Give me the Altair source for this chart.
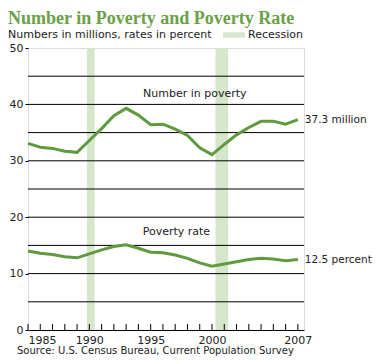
import altair as alt
import pandas as pd

years = list(range(1985, 2008))
number_in_poverty = [33.1, 32.4, 32.2, 31.7, 31.5, 33.6, 35.7, 38.0, 39.3, 38.1, 36.4, 36.5,
                     35.6, 34.5, 32.3, 31.1, 32.9, 34.6, 35.9, 37.0, 37.0, 36.5, 37.3]
poverty_rate = [14.0, 13.6, 13.4, 13.0, 12.8, 13.5, 14.2, 14.8, 15.1, 14.5, 13.8, 13.7,
                13.3, 12.7, 11.9, 11.3, 11.7, 12.1, 12.5, 12.7, 12.6, 12.3, 12.5]

recession_start = [1989.8, 2000.28]
recession_end = [1990.44, 2001.32]

series_labels = ["Number in poverty", "Poverty rate"]
series_label_x = [1998.6, 1997.1]
series_label_y = [41.8, 17.4]

end_labels = ["37.3 million", "12.5 percent"]

title_text = "Number in Poverty and Poverty Rate"
subtitle_text = "Numbers in millions, rates in percent"
source_text = "Source:  U.S. Census Bureau, Current Population Survey"

x_tick_labels = [1985, 1990, 1995, 2000, 2007]
y_ticks = list(range(0, 51, 5))
grid_values = list(range(5, 50, 5))

GREEN = "#5f9b3e"
TITLE_GREEN = "#6aa146"
BAND = "#d6e6cb"
FONT = "DejaVu Sans"
TEXT = "#222222"

W, H = 276, 282

lines_df = pd.DataFrame({
    "year": years * 2,
    "value": number_in_poverty + poverty_rate,
    "series": ["number"] * len(years) + ["rate"] * len(years),
})
band_df = pd.DataFrame({"start": recession_start, "end": recession_end,
                        "label": ["Recession"] * len(recession_start)})
lab_df = pd.DataFrame({"text": series_labels, "x": series_label_x, "y": series_label_y})
end_df = pd.DataFrame({"text": end_labels, "x": [years[-1]] * 2,
                       "y": [number_in_poverty[-1], poverty_rate[-1]]})
grid_df = pd.DataFrame({"y": grid_values})
tick_df = pd.DataFrame({"year": years})

xscale = alt.Scale(domain=[1985, 2007.5], nice=False, zero=False)
yscale = alt.Scale(domain=[0, 50], nice=False)

xaxis = alt.Axis(values=x_tick_labels, format="d", title=None, grid=False, ticks=False,
                 domain=True, domainColor="black", domainWidth=1, labelPadding=4,
                 labelFont=FONT, labelFontSize=11, labelColor=TEXT)
yaxis = alt.Axis(values=y_ticks, title=None, grid=False, ticks=True, tickSize=3,
                 tickColor="black", domain=False, labelPadding=2, labelFont=FONT,
                 labelFontSize=11, labelColor=TEXT)

bands = alt.Chart(band_df).mark_rect(opacity=1).encode(
    x=alt.X("start:Q", scale=xscale, axis=xaxis),
    x2="end:Q",
    color=alt.Color("label:N", scale=alt.Scale(range=[BAND]),
                    legend=alt.Legend(title=None, orient="none", legendX=195, legendY=-24,
                                      symbolType="M-1,-0.25H1V0.25H-1Z", symbolSize=484,
                                      symbolStrokeWidth=0, symbolOpacity=1,
                                      labelFont=FONT, labelFontSize=11, labelColor=TEXT,
                                      padding=0, labelOffset=3)),
)

grid = alt.Chart(grid_df).mark_rule(color="black", strokeWidth=1).encode(
    y=alt.Y("y:Q", scale=yscale, axis=yaxis)
)

ticks = alt.Chart(tick_df).mark_rule(color="black", strokeWidth=1).encode(
    x=alt.X("year:Q", scale=xscale),
    y=alt.value(H), y2=alt.value(H - 6),
)

lines = alt.Chart(lines_df).mark_line(color=GREEN, strokeWidth=3).encode(
    x=alt.X("year:Q", scale=xscale),
    y=alt.Y("value:Q", scale=yscale),
    detail="series:N",
)

labels = alt.Chart(lab_df).mark_text(font=FONT, fontSize=11, color=TEXT).encode(
    x=alt.X("x:Q", scale=xscale), y=alt.Y("y:Q", scale=yscale), text="text:N"
)

ends = alt.Chart(end_df).mark_text(font=FONT, fontSize=10.5, color=TEXT, align="left",
                                    dx=7).encode(
    x=alt.X("x:Q", scale=xscale), y=alt.Y("y:Q", scale=yscale), text="text:N"
)

title = alt.Chart(pd.DataFrame({"t": [title_text]})).mark_text(
    font="Liberation Serif", fontSize=18, fontWeight="bold", color=TITLE_GREEN,
    align="left", baseline="alphabetic").encode(
    x=alt.value(-20), y=alt.value(-24), text="t:N")

subtitle = alt.Chart(pd.DataFrame({"t": [subtitle_text]})).mark_text(
    font=FONT, fontSize=11, color=TEXT, align="left", baseline="alphabetic").encode(
    x=alt.value(-20), y=alt.value(-10), text="t:N")

source = alt.Chart(pd.DataFrame({"t": [source_text]})).mark_text(
    font=FONT, fontSize=10, color=TEXT, align="left", baseline="alphabetic").encode(
    x=alt.value(-11), y=alt.value(H + 24), text="t:N")

chart = alt.layer(bands, grid, ticks, lines, labels, ends, title, subtitle, source).properties(
    width=W, height=H,
    autosize=alt.AutoSizeParams(type="none"),
    padding={"left": 20, "top": 40, "right": 367 - 20 - W, "bottom": 348 - 40 - H},
).configure_view(stroke="black", strokeWidth=1).configure(background="white")

chart.save("out.html", embed_options={"renderer": "svg", "actions": False})
